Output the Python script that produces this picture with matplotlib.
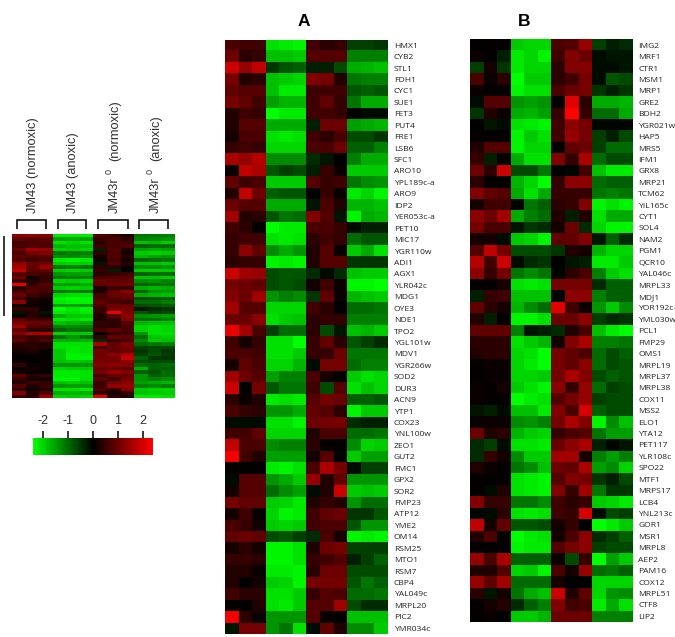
import numpy as np
import matplotlib
matplotlib.use("Agg")
import matplotlib.pyplot as plt
from matplotlib.colors import LinearSegmentedColormap, Normalize
from matplotlib.cm import ScalarMappable

W, H = 675, 637
LIMIT = 2.4

genes_a = ["HMX1", "CYB2", "STL1", "FDH1", "CYC1", "SUE1", "FET3", "PUT4", "FRE1", "LSB6",
           "SFC1", "ARO10", "YPL189c-a", "ARO9", "IDP2", "YER053c-a", "PET10", "MIC17", "YGR110w", "ADI1",
           "AGX1", "YLR042c", "MDG1", "OYE3", "NDE1", "TPO2", "YGL101w", "MDV1", "YGR266w", "SOD2",
           "DUR3", "ACN9", "YTP1", "COX23", "YNL100w", "ZEO1", "GUT2", "FMC1", "GPX2", "SOR2",
           "FMP23", "ATP12", "YME2", "OM14", "RSM25", "MTO1", "RSM7", "CBP4", "YAL049c", "MRPL20",
           "PIC2", "YMR034c"]

genes_b = ["IMG2", "MRF1", "CTR1", "MSM1", "MRP1", "GRE2", "BDH2", "YGR021w", "HAP5", "MRS5",
           "IFM1", "GRX8", "MRP21", "TCM62", "YIL165c", "CYT1", "SOL4", "NAM2", "PGM1", "QCR10",
           "YAL046c", "MRPL33", "MDJ1", "YOR192c-", "YML030w", "PCL1", "FMP29", "OMS1", "MRPL19", "MRPL37",
           "MRPL38", "COX11", "MSS2", "ELO1", "YTA12", "PET117", "YLR108c", "SPO22", "MTF1", "MRPS17",
           "LCB4", "YNL213c", "GOR1", "MSR1", "MRPL8", "AEP2", "PAM16", "COX12", "MRPL51", "CTF8",
           "LIP2"]

# log ratios, three replicates per condition: JM43 norm, JM43 anox, r0 norm, r0 anox
expr_a = [
    [0.7, 0.6, 0.6, -2.1, -2.2, -2.3, 0.6, 0.4, 0.5, -0.6, -0.6, -0.5],
    [1.0, 0.4, 0.5, -1.8, -1.8, -1.9, 0.8, 0.8, 0.8, -1.2, -1.2, -1.2],
    [1.9, 1.4, 1.8, -0.5, -0.8, -0.9, -0.3, -0.3, -0.7, -1.6, -1.7, -1.8],
    [1.1, 0.3, 0.4, -1.8, -1.9, -2.0, 1.2, 1.1, 0.3, -1.1, -1.2, -1.2],
    [0.9, 0.8, 0.8, -1.8, -2.2, -2.2, 0.6, 0.6, 0.6, -0.8, -0.9, -0.8],
    [1.1, 0.9, 0.6, -1.5, -1.7, -1.7, 0.6, 0.9, 0.5, -1.1, -1.6, -1.6],
    [0.3, 0.6, 0.5, -2.4, -2.2, -2.2, 0.6, 0.6, 0.5, 0.0, -0.1, -0.1],
    [0.3, 0.8, 0.8, -1.6, -1.6, -1.6, -0.3, 1.0, 1.0, -1.5, -1.6, -1.7],
    [0.2, 0.7, 0.7, -2.1, -2.2, -2.1, 0.6, 0.4, 0.7, -0.7, -0.7, -0.5],
    [0.5, 0.6, 0.5, -2.0, -2.0, -2.0, 0.7, 0.7, 1.0, -0.9, -0.9, -1.2],
    [1.6, 1.4, 1.7, -1.3, -1.3, -1.3, -0.4, -0.2, 0.0, -1.2, -1.6, -1.6],
    [0.1, 1.8, 1.6, -0.8, -0.6, -0.7, -0.3, 0.5, 0.1, -1.9, -1.9, -1.9],
    [0.9, 0.6, 0.7, -1.9, -1.9, -1.9, 0.8, 0.5, 0.6, -1.1, -1.3, -1.4],
    [0.3, 1.8, 1.0, -0.9, -0.8, -0.8, 0.0, 0.5, 0.1, -2.2, -2.0, -2.3],
    [1.0, 0.8, 0.8, -1.6, -1.6, -1.6, -0.2, 0.7, 0.3, -1.7, -1.7, -1.8],
    [1.5, 0.3, 0.4, -0.8, -1.1, -1.0, 1.2, 0.8, -0.2, -2.3, -1.6, -1.7],
    [0.6, 0.4, 0.05, -2.4, -2.2, -2.2, 0.7, 0.7, 0.5, -0.1, -0.3, -0.3],
    [0.5, 0.6, 0.6, -2.1, -2.2, -2.1, 0.4, 0.6, 0.5, -1.0, -0.8, -0.8],
    [0.5, 1.3, 0.9, -1.3, -1.6, -1.4, 0.3, 0.8, 0.1, -1.9, -1.6, -2.1],
    [0.4, 0.5, 0.5, -2.3, -2.2, -2.3, 0.3, 0.8, 0.8, -0.5, -0.5, -0.5],
    [1.9, 1.5, 1.4, -0.7, -0.8, -0.8, -0.4, -0.1, -0.4, -1.8, -1.9, -1.9],
    [1.1, 1.0, 0.9, -0.7, -0.8, -0.7, 0.2, 0.6, 0.1, -2.3, -2.3, -2.4],
    [1.2, 1.0, 1.5, -1.4, -1.2, -1.3, -0.5, 0.9, 0.1, -1.7, -1.8, -1.9],
    [1.5, 0.8, 0.8, -2.0, -2.0, -2.0, 0.6, 0.4, 0.0, -1.0, -1.0, -1.1],
    [1.0, 1.0, 1.3, -2.1, -1.9, -1.8, 0.4, 0.5, 0.5, -1.2, -1.2, -1.2],
    [2.2, 1.5, 0.7, -0.6, -1.0, -1.0, 0.4, -0.7, -0.2, -1.8, -1.7, -1.9],
    [0.6, 0.2, 0.5, -2.1, -2.1, -2.4, 0.5, 0.9, 0.4, -0.8, -0.6, -0.4],
    [0.7, 0.7, 0.6, -2.1, -2.1, -1.9, 0.5, 0.5, 1.0, -1.1, -1.1, -1.1],
    [0.2, 0.9, 0.7, -2.0, -2.0, -1.7, -0.1, 1.1, 1.1, -1.0, -1.2, -1.2],
    [1.5, 1.0, 0.8, -1.5, -1.2, -1.2, 0.7, 0.2, 0.0, -1.9, -2.1, -2.0],
    [1.9, 0.05, 1.1, -0.8, -1.1, -1.1, 0.6, -0.7, 0.8, -2.1, -1.8, -2.0],
    [0.4, 0.1, 0.3, -2.2, -2.1, -2.2, 0.8, 1.1, 1.0, -0.9, -0.9, -0.8],
    [0.7, 0.5, 0.4, -1.4, -1.4, -1.6, 0.9, 0.8, 0.4, -2.3, -1.9, -1.9],
    [-0.1, -0.1, -0.1, -2.1, -2.1, -2.3, 1.0, 1.1, 1.1, -0.4, -0.3, -0.3],
    [0.6, 0.6, 0.9, -2.0, -2.0, -2.0, 0.3, 0.7, 0.7, -1.0, -1.0, -1.1],
    [1.8, 0.7, 0.7, -1.3, -1.2, -1.2, 0.4, 0.05, 0.0, -1.3, -2.0, -1.9],
    [2.3, 0.6, 0.3, -1.5, -1.5, -1.5, 0.2, 0.8, -0.05, -1.9, -1.5, -1.5],
    [0.05, 0.05, 0.05, -2.2, -2.3, -2.1, 0.7, 1.6, 1.1, -0.1, -0.6, -0.6],
    [-0.1, 0.8, 0.8, -1.4, -1.6, -1.9, 1.4, 0.3, 0.9, -1.4, -1.4, -1.4],
    [0.2, 0.8, 0.8, -1.0, -1.3, -1.5, -0.1, 0.3, 1.9, -1.9, -1.8, -1.9],
    [1.1, 0.9, 0.9, -1.9, -2.0, -2.2, 0.3, 0.5, 0.3, -1.4, -1.0, -1.0],
    [0.2, 0.6, 0.1, -2.0, -2.3, -2.2, 0.6, 0.9, 1.0, -0.5, -0.5, -0.8],
    [0.7, 0.5, 0.2, -1.9, -2.0, -1.9, 0.6, 0.7, 0.7, -0.8, -1.4, -1.4],
    [0.9, 1.0, 0.9, -0.7, -0.8, -0.6, -0.4, 0.7, 0.2, -2.3, -2.2, -2.3],
    [0.2, 0.4, 0.2, -2.3, -2.3, -2.1, 0.3, 1.0, 1.1, -0.6, -0.6, -0.6],
    [0.5, 0.5, 0.4, -2.3, -2.3, -2.1, 0.5, 0.6, 0.8, -0.3, -0.6, -0.9],
    [0.3, 0.3, 0.1, -2.2, -2.2, -2.3, 0.4, 1.0, 1.0, -0.7, -0.7, -0.7],
    [0.3, 0.05, 0.2, -1.9, -2.0, -2.3, 1.1, 1.1, 1.1, -0.8, -1.1, -0.9],
    [0.6, 0.4, 0.4, -2.1, -2.1, -1.9, 0.5, 0.8, 0.7, -1.0, -1.0, -1.1],
    [0.05, 0.05, 0.3, -2.1, -2.2, -1.9, 0.8, 0.8, 1.5, -0.7, -0.4, -0.4],
    [2.3, 0.4, 0.1, -1.4, -1.4, -1.4, 0.8, 0.1, 0.05, -1.8, -1.8, -1.8],
    [-0.2, 1.1, 1.1, -1.4, -1.1, -2.1, -0.1, 0.9, 0.3, -1.3, -1.3, -1.9],
]

expr_b = [
    [0.05, 0.05, 0.05, -1.9, -2.0, -2.0, 0.7, 0.8, 1.4, -0.6, -0.3, -0.4],
    [0.1, 0.0, -0.3, -2.2, -2.0, -2.3, 0.6, 1.2, 1.0, -0.1, -0.2, -0.2],
    [-0.6, 0.2, -0.5, -2.2, -2.0, -2.0, 0.4, 1.2, 1.2, -0.1, -0.1, -0.2],
    [0.7, 0.1, 0.4, -2.4, -1.9, -1.9, 0.4, 0.6, 1.1, -0.1, -0.8, -0.7],
    [0.1, 0.05, 0.05, -2.3, -2.1, -2.1, 0.7, 1.0, 1.1, -0.5, -0.3, -0.5],
    [-0.1, 0.8, 0.8, -1.4, -1.5, -1.4, 0.0, 2.1, 0.4, -1.6, -1.6, -1.7],
    [-0.5, 0.3, 0.1, -1.6, -1.7, -1.5, 0.5, 2.4, 0.5, -1.0, -1.0, -1.6],
    [0.0, -0.2, -0.1, -2.1, -2.2, -2.3, 0.6, 1.3, 1.1, -0.05, -0.05, -0.05],
    [0.05, 0.05, 0.05, -2.3, -1.9, -2.1, 0.6, 1.4, 1.1, -0.6, -0.3, -0.7],
    [0.3, 0.8, 0.8, -2.3, -2.0, -2.0, 0.0, 0.9, 1.0, -0.6, -1.0, -1.0],
    [0.5, -0.3, 0.05, -1.6, -2.1, -2.1, 1.2, 0.5, 1.6, -1.0, -0.7, -0.7],
    [1.0, 0.4, 1.9, -0.7, -0.7, -1.1, 0.0, -0.05, 0.6, -1.8, -2.2, -2.2],
    [0.4, 0.05, 0.05, -1.7, -2.0, -2.4, 0.5, 1.3, 1.3, -1.0, -0.9, -0.9],
    [1.2, 0.9, 0.8, -1.6, -2.1, -1.6, 0.5, 0.5, 0.5, -1.1, -1.2, -1.1],
    [0.2, 0.6, 0.6, -0.05, -1.1, -0.9, 0.4, 0.5, 1.2, -2.3, -2.1, -2.3],
    [1.3, 1.0, 1.5, -1.6, -1.2, -1.0, 0.3, -0.3, 0.3, -2.1, -1.6, -1.6],
    [1.1, 0.7, 0.7, -0.2, -0.5, -0.4, 0.2, 1.0, -0.4, -2.0, -2.3, -2.3],
    [0.2, 0.2, -0.1, -1.9, -2.0, -2.3, 0.9, 0.9, 1.2, -0.2, -0.9, -0.4],
    [0.8, 1.8, 1.1, -0.7, -0.7, -0.7, -0.5, 0.3, 0.2, -1.7, -2.0, -2.0],
    [1.7, 0.6, 1.9, -0.1, -0.4, -0.5, 0.0, -0.2, -0.3, -2.2, -2.2, -1.9],
    [1.3, 0.5, 1.1, -1.1, -1.3, -1.1, -0.05, 0.4, 0.7, -1.2, -1.9, -2.1],
    [0.05, 0.05, 0.2, -2.1, -2.2, -2.1, 1.1, 1.1, 1.1, -0.4, -0.9, -0.9],
    [-0.3, 0.5, 0.6, -1.8, -1.8, -1.8, 0.0, 1.3, 1.3, -1.2, -0.9, -0.9],
    [0.9, 0.4, 0.2, -1.7, -1.3, -1.0, 2.1, 0.6, 0.1, -1.4, -1.9, -1.3],
    [0.3, -0.3, 0.05, -2.3, -2.3, -2.1, 1.0, 1.0, 1.3, -0.6, -0.4, -0.5],
    [0.9, 0.9, 0.9, -1.2, -0.2, -0.3, -0.4, 0.3, 0.7, -1.8, -2.2, -2.4],
    [0.4, 0.4, 0.4, -2.1, -1.9, -1.7, 0.2, 1.2, 1.6, -1.2, -1.2, -1.1],
    [0.3, 0.4, 0.4, -2.0, -2.1, -2.4, 1.1, 0.9, 0.7, -1.0, -0.7, -0.9],
    [0.05, 0.1, 0.1, -2.0, -2.2, -2.4, 1.1, 0.9, 1.3, -1.0, -0.7, -0.8],
    [0.05, 0.1, 0.1, -2.0, -2.0, -1.9, 1.1, 1.6, 1.2, -0.7, -0.9, -0.8],
    [0.1, 0.05, 0.2, -1.9, -2.1, -2.3, 1.3, 0.5, 1.4, -1.0, -0.6, -0.7],
    [0.1, 0.05, 0.05, -2.4, -2.2, -2.1, 0.8, 1.1, 1.4, -0.6, -0.7, -0.7],
    [-0.2, -0.3, -0.1, -1.8, -1.8, -2.2, 1.2, 0.7, 2.0, -0.9, -0.7, -0.7],
    [0.1, 0.1, 0.1, -1.3, -1.4, -1.2, 1.1, 1.6, 1.2, -2.3, -1.3, -1.8],
    [1.0, 0.3, 0.4, -1.7, -1.9, -2.0, 0.5, 0.7, 0.8, -1.1, -1.5, -1.5],
    [-0.4, -0.6, -0.1, -2.1, -2.1, -2.2, 1.0, 1.3, 1.6, -0.3, -0.05, -0.2],
    [-0.4, 0.5, 0.2, -1.3, -1.9, -1.9, 1.5, 1.5, 0.2, -1.2, -1.5, -1.2],
    [0.3, 0.1, 0.05, -1.1, -1.3, -1.8, 1.0, 0.9, 1.6, -1.5, -1.3, -2.0],
    [0.05, 0.05, 0.05, -2.1, -2.2, -2.3, 0.8, 1.2, 1.1, -0.5, -0.3, -0.7],
    [0.05, -0.1, 0.3, -2.1, -2.2, -2.3, 1.2, 0.5, 1.5, -1.1, -0.5, -0.5],
    [1.2, 0.5, 0.5, -1.1, -1.1, -1.3, 0.6, 0.4, 0.5, -1.9, -2.0, -2.2],
    [-0.05, -0.1, 0.4, -2.1, -2.2, -2.1, 0.6, 0.5, 2.0, -0.1, -0.7, -0.6],
    [1.8, 0.2, 0.9, -0.8, -0.8, -0.7, 0.2, 0.5, 0.0, -2.4, -2.2, -1.9],
    [0.3, 0.7, 0.05, -2.4, -2.2, -2.1, 0.2, 0.7, 1.3, -0.4, -0.6, -0.9],
    [0.05, 0.05, 0.05, -2.3, -2.2, -2.2, 0.8, 1.1, 1.3, -0.6, -0.7, -0.7],
    [1.4, 0.7, 1.6, -0.9, -0.9, -0.9, 0.1, -0.7, 0.5, -2.4, -1.5, -1.9],
    [0.3, 0.3, 0.8, -2.0, -1.9, -2.3, 0.7, 0.2, 1.4, -1.0, -1.1, -0.9],
    [1.4, 0.9, 1.5, -1.0, -1.0, -1.0, 0.2, 0.0, 0.0, -2.0, -2.0, -2.0],
    [0.4, -0.2, 0.2, -1.1, -1.6, -1.8, 1.9, 0.3, 0.9, -2.0, -1.4, -1.3],
    [0.05, 0.2, 0.3, -0.4, -0.9, -1.2, 1.2, 0.6, 0.7, -2.2, -1.6, -2.1],
    [0.05, 0.1, 0.0, -1.9, -1.9, -1.7, 1.0, 1.0, 1.0, -1.2, -1.2, -1.2],
]

# overview of all regulated genes, binned rows
expr_all = [
    [1.3, 1.4, 1.2, -2.2, -2.2, -2.2, 0.8, 0.5, 0.3, -1.1, -1.1, -1.2],
    [0.9, 0.8, 0.9, -1.5, -1.6, -1.5, 0.5, 0.7, 0.4, -1.2, -1.3, -1.4],
    [0.6, 0.7, 0.8, -2.1, -2.0, -2.1, 0.4, 0.7, 0.6, -1.8, -1.7, -1.9],
    [0.7, 0.8, 0.7, -1.7, -1.8, -1.8, 0.6, 0.7, 0.7, -0.9, -1.0, -1.0],
    [1.0, 1.5, 1.4, -2.0, -1.9, -2.0, -0.3, 0.8, 0.3, -1.5, -1.6, -1.5],
    [0.7, 1.1, 1.2, -1.1, -1.2, -1.2, 0.5, 0.7, 0.2, -1.9, -2.0, -1.9],
    [0.9, 0.8, 0.8, -1.3, -1.3, -1.4, 0.1, 0.8, 0.4, -1.7, -1.5, -1.4],
    [0.7, 0.6, 0.7, -2.2, -2.3, -2.2, 0.2, 0.6, 0.2, -0.9, -1.0, -1.1],
    [1.4, 1.0, 1.1, -1.9, -2.0, -1.9, -0.2, 0.8, 0.4, -1.8, -1.8, -1.9],
    [1.5, 0.9, 1.4, -1.1, -1.2, -1.1, 0.4, 0.4, 0.1, -1.3, -1.3, -1.4],
    [1.8, 0.9, 0.9, -1.9, -2.0, -1.9, 0.5, -0.3, 0.05, -1.9, -1.9, -1.9],
    [0.8, 0.7, 0.6, -1.4, -1.5, -1.5, 0.4, 0.5, 0.6, -0.9, -1.0, -1.0],
    [1.0, 0.1, 0.5, -1.1, -1.2, -1.2, 0.7, 0.8, 0.8, -1.8, -1.8, -1.9],
    [0.5, 0.3, 0.5, -2.0, -1.9, -2.0, 1.0, 0.9, 0.9, -1.3, -1.4, -1.2],
    [2.2, 0.5, 0.8, -1.5, -1.5, -1.6, 0.9, 1.0, 1.1, -0.9, -1.0, -1.1],
    [0.4, 0.7, 0.7, -1.9, -2.0, -1.9, 0.3, 0.6, 0.5, -1.6, -1.7, -1.6],
    [0.6, 0.8, 0.6, -1.1, -1.2, -1.1, 0.2, 0.9, 1.3, -0.9, -1.4, -1.5],
    [1.0, 0.6, 0.4, -2.0, -2.1, -2.1, 0.7, 1.0, 1.0, -1.6, -1.7, -1.8],
    [0.6, 0.2, 0.2, -2.3, -2.4, -2.3, 0.7, 0.8, 0.9, -0.7, -0.8, -0.9],
    [1.3, 0.2, 0.1, -2.2, -2.3, -2.3, 0.9, 0.7, 0.6, -1.0, -1.0, -1.2],
    [0.1, 0.1, 0.1, -1.5, -1.5, -1.4, 0.8, 1.0, 1.0, -0.7, -0.8, -0.9],
    [0.5, 0.5, 0.1, -2.4, -2.2, -2.3, 0.5, 1.1, 1.1, -0.2, -0.4, -0.5],
    [-0.2, 0.3, -0.2, -2.2, -2.1, -2.2, 0.5, 2.2, 1.2, -0.8, -0.6, -0.7],
    [0.1, 0.4, 0.2, -1.6, -1.9, -1.9, 0.3, 0.8, 1.3, -1.3, -1.4, -1.5],
    [0.9, 0.6, 0.6, -2.2, -2.1, -2.2, 0.3, 0.5, 1.2, -1.0, -1.0, -1.2],
    [1.1, 1.0, 1.0, -1.8, -1.7, -1.6, 0.5, 0.4, 0.8, -1.7, -1.8, -1.8],
    [1.5, 0.8, 0.7, -1.2, -1.3, -1.2, 0.4, 0.4, 0.7, -2.0, -2.1, -2.0],
    [0.9, 0.4, 0.4, -0.9, -1.1, -1.0, 0.7, 0.9, 0.7, -2.0, -2.1, -2.0],
    [1.2, 1.6, 1.7, -2.0, -1.9, -1.9, 0.1, 0.5, 0.6, -1.4, -2.1, -2.1],
    [0.7, 0.5, 0.5, -1.0, -1.4, -1.0, 0.5, 1.0, 0.9, -1.0, -1.8, -1.9],
    [0.9, 0.5, 0.8, -1.7, -1.6, -1.7, -0.4, 0.5, 0.7, -1.3, -1.9, -1.8],
    [0.4, 0.4, 0.3, -2.1, -2.1, -2.1, 1.6, 0.9, 1.2, -1.0, -1.1, -1.2],
    [0.3, 0.4, 0.3, -2.1, -2.2, -2.1, 0.7, 1.0, 1.1, -0.6, -0.7, -0.7],
    [0.2, 0.3, 0.1, -1.9, -2.2, -2.1, 1.1, 0.9, 1.0, -0.5, -0.7, -0.5],
    [0.1, 0.1, 0.05, -1.9, -2.3, -2.2, 1.0, 1.3, 1.6, -0.6, -0.8, -0.6],
    [0.05, 0.05, 0.05, -1.9, -2.3, -2.3, 1.1, 1.1, 1.9, -0.9, -0.5, -0.5],
    [0.1, 0.05, 0.1, -1.8, -1.9, -1.8, 1.1, 1.1, 1.3, -0.7, -0.7, -0.7],
    [0.5, 0.1, 0.1, -1.4, -1.4, -1.4, 1.2, 1.3, 1.2, -1.0, -0.9, -1.0],
    [0.05, 0.2, 0.1, -2.0, -1.9, -1.9, 1.0, 1.0, 0.8, -1.6, -0.9, -0.9],
    [0.2, 0.1, 0.05, -2.2, -2.2, -2.1, 1.1, 1.4, 1.2, -0.9, -0.8, -1.0],
    [0.9, 0.4, 0.5, -2.2, -2.2, -2.1, 0.6, 1.0, 0.9, -1.4, -0.9, -1.0],
    [0.5, 0.2, 0.2, -2.3, -2.3, -2.1, 0.9, 0.6, 1.1, -1.4, -1.2, -1.3],
    [0.3, 0.6, 0.5, -1.8, -1.9, -1.8, 0.5, 1.1, 1.3, -1.5, -1.6, -1.7],
    [0.8, 0.3, 0.5, -1.4, -1.5, -1.5, 0.6, 1.4, 1.4, -1.2, -1.3, -1.2],
    [0.4, 0.2, 0.3, -2.1, -2.1, -2.2, 0.7, 0.5, 1.2, -1.9, -2.0, -2.0],
    [1.2, 0.3, 0.8, -1.6, -1.7, -1.6, 0.5, 0.2, 0.5, -1.8, -1.9, -1.9],
    [0.5, 0.4, 1.4, -2.0, -1.9, -2.0, 2.1, 0.4, 0.3, -2.2, -2.2, -2.1],
]

sample_labels = ["JM43 (normoxic)", "JM43 (anoxic)"]
cbar_ticks = [-2, -1, 0, 1, 2]

# green, black, red
gene_cmap = LinearSegmentedColormap.from_list("green_black_red", ["#00ff00", "#000000", "#ff0000"])
norm = Normalize(vmin=-LIMIT, vmax=LIMIT)

plt.rcParams["font.family"] = ["Liberation Sans", "DejaVu Sans"]
fig = plt.figure(figsize=(W / 100, H / 100), dpi=100, facecolor="white")


def pixel_axes(left, top, right, bottom):
    return fig.add_axes([left / W, 1 - bottom / H, (right - left) / W, (bottom - top) / H])


def heatmap(box, values, genes=None):
    ax = pixel_axes(*box)
    ax.imshow(np.array(values), cmap=gene_cmap, norm=norm, aspect="auto", interpolation="nearest")
    ax.set_xticks([])
    for spine in ax.spines.values():
        spine.set_visible(False)
    if genes is None:
        ax.set_yticks([])
    else:
        ax.yaxis.tick_right()
        ax.set_yticks(range(len(genes)), genes, family=["Open Sans", "DejaVu Sans"],
                      fontsize=6.1, color="#222222")
        ax.tick_params(axis="y", length=0, pad=4.5)
    return ax


heatmap((224.5, 39.5, 387.5, 634), expr_a, genes_a)
heatmap((469.5, 39.5, 632, 622), expr_b, genes_b)
heatmap((11.7, 234, 174, 398), expr_all)

# colour key
cax = pixel_axes(33, 437.7, 153, 454.5)
cbar = fig.colorbar(ScalarMappable(norm=norm, cmap=gene_cmap), cax=cax, orientation="horizontal")
cbar.outline.set_visible(False)
cax.xaxis.set_ticks_position("top")
cbar.set_ticks(cbar_ticks)
cbar.set_ticklabels([str(t) for t in cbar_ticks])
cax.tick_params(axis="x", length=5, width=1.1, pad=3, labelsize=9, labelcolor="#303030")

# annotations live on a pixel-scaled overlay
over = fig.add_axes([0, 0, 1, 1], facecolor="none")
over.set_xlim(0, W)
over.set_ylim(H, 0)
over.axis("off")

over.text(304, 22, "A", fontsize=12.5, fontweight="bold", ha="center", va="center")
over.text(523.7, 22, "B", fontsize=12.5, fontweight="bold", ha="center", va="center")

label_style = dict(rotation=90, ha="center", va="bottom", fontsize=9.3, color="#303030")
over.text(32.7, 213, sample_labels[0], **label_style)
over.text(72.7, 213, sample_labels[1], **label_style)
over.text(115, 213, "JM43r", **label_style)
over.text(109, 174, "0", rotation=90, ha="center", va="bottom", fontsize=6.5, color="#303030")
over.text(115, 161, "(normoxic)", **label_style)
over.text(156, 213, "JM43r", **label_style)
over.text(150, 174, "0", rotation=90, ha="center", va="bottom", fontsize=6.5, color="#303030")
over.text(156, 161, "(anoxic)", **label_style)

# sample brackets and the side bar
for x0, x1 in [(17, 45.7), (57.7, 86.3), (98.3, 127.7), (139, 168)]:
    over.plot([x0, x0, x1, x1], [229, 219.5, 219.5, 229], color="black", lw=1.1,
              solid_joinstyle="miter", solid_capstyle="butt")
over.plot([3.7, 3.7], [235.7, 316], color="black", lw=1.1, solid_capstyle="butt")

fig.savefig("out.png", dpi=100)
